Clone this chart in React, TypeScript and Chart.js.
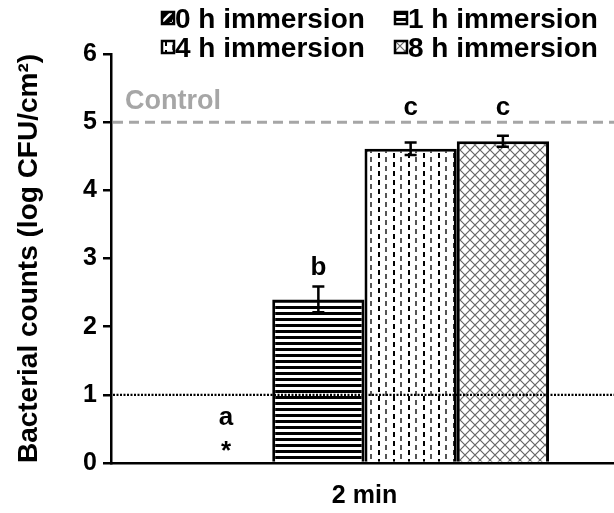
import React, { useEffect, useRef } from 'react';
import { Chart, registerables } from 'chart.js';

Chart.register(...registerables);

// ---- data ----
const categories = ['2 min'];
const seriesNames = ['0 h immersion', '1 h immersion', '4 h immersion', '8 h immersion'];
const meanCounts = [0, 2.4, 4.61, 4.72];
const sdCounts = [0, 0.19, 0.09, 0.08];
const groupLetters = ['a', 'b', 'c', 'c'];
const belowLimitMarks = ['*', '', '', ''];
const yTickValues = [0, 1, 2, 3, 4, 5, 6];
const controlLevel = 5;
const controlLabel = 'Control';
const detectionLimit = 1;
const yTitle = 'Bacterial counts (log CFU/cm\u00B2)';

const FONT = "'Liberation Sans', Arial, Helvetica, sans-serif";

function tile(w: number, h: number, draw: (c: CanvasRenderingContext2D) => void, bg = '#fff') {
  const cv = document.createElement('canvas');
  cv.width = w;
  cv.height = h;
  const c = cv.getContext('2d')!;
  c.fillStyle = bg;
  c.fillRect(0, 0, w, h);
  draw(c);
  return cv;
}

function makePatterns(ctx: CanvasRenderingContext2D): CanvasPattern[] {
  // 0 h: black with a white rising diagonal
  const t0 = tile(10, 10, (c) => {
    c.strokeStyle = '#fff';
    c.lineWidth = 2.5;
    c.beginPath();
    c.moveTo(-2, 12);
    c.lineTo(12, -2);
    c.stroke();
  }, '#000');
  // 1 h: horizontal stripes
  const t1 = tile(6, 6, (c) => {
    c.fillStyle = '#000';
    c.fillRect(0, 0, 6, 3);
  });
  // 4 h: staggered short vertical dashes
  const t2 = tile(15, 9, (c) => {
    c.fillStyle = '#000';
    c.fillRect(3, 0, 2, 5);
    c.fillStyle = '#555';
    c.fillRect(10, 4, 2, 5);
  });
  // 8 h: diagonal cross-hatch
  const t3 = tile(10, 10, (c) => {
    c.strokeStyle = '#666';
    c.lineWidth = 1.2;
    c.beginPath();
    c.moveTo(0, 0);
    c.lineTo(10, 10);
    c.moveTo(10, 0);
    c.lineTo(0, 10);
    c.stroke();
  });
  return [t0, t1, t2, t3].map((t) => ctx.createPattern(t, 'repeat')!);
}

const overlayPlugin = {
  id: 'overlay',
  afterDatasetsDraw(chart: any) {
    const { ctx, chartArea, scales } = chart;
    const y = scales.y;
    const cy = y.getPixelForValue(controlLevel);
    const dy = y.getPixelForValue(detectionLimit);
    ctx.save();

    // control reference line and label
    ctx.strokeStyle = '#a6a6a6';
    ctx.lineWidth = 3;
    ctx.setLineDash([10, 6]);
    ctx.beginPath();
    ctx.moveTo(chartArea.left + 2, cy);
    ctx.lineTo(chartArea.right, cy);
    ctx.stroke();
    ctx.setLineDash([]);
    ctx.fillStyle = '#a6a6a6';
    ctx.font = `bold 27px ${FONT}`;
    ctx.textAlign = 'left';
    ctx.textBaseline = 'alphabetic';
    ctx.fillText(controlLabel, chartArea.left + 14, cy - 13);

    // detection limit line
    ctx.strokeStyle = '#000';
    ctx.lineWidth = 2.2;
    ctx.setLineDash([2, 1.5]);
    ctx.beginPath();
    ctx.moveTo(chartArea.left + 2, dy);
    ctx.lineTo(chartArea.right, dy);
    ctx.stroke();
    ctx.setLineDash([]);

    // error bars and letters
    ctx.font = `bold 26px ${FONT}`;
    ctx.textAlign = 'center';
    chart.data.datasets.forEach((ds: any, i: number) => {
      const bar = chart.getDatasetMeta(i).data[0];
      if (!bar) return;
      const x = bar.x;
      const m = meanCounts[i];
      const sd = sdCounts[i];
      ctx.fillStyle = '#000';
      if (m > 0) {
        const top = y.getPixelForValue(m + sd);
        const bot = y.getPixelForValue(m - sd);
        ctx.strokeStyle = '#000';
        ctx.lineWidth = 2.5;
        ctx.beginPath();
        ctx.moveTo(x, top);
        ctx.lineTo(x, bot);
        ctx.moveTo(x - 6, top);
        ctx.lineTo(x + 6, top);
        ctx.moveTo(x - 6, bot);
        ctx.lineTo(x + 6, bot);
        ctx.stroke();
        let base = top - 11;
        if (base > cy - 30 && base - 20 < cy + 3) base = cy - 7;
        ctx.fillText(groupLetters[i], x, base);
      } else {
        ctx.fillText(groupLetters[i], x, dy + 30);
        if (belowLimitMarks[i]) ctx.fillText(belowLimitMarks[i], x, dy + 64);
      }
    });
    ctx.restore();
  },
  afterDraw(chart: any) {
    const { ctx } = chart;
    const cols = [162, 395];
    const baselines = [28, 57];
    ctx.save();
    ctx.font = `bold 28px ${FONT}`;
    ctx.textBaseline = 'alphabetic';
    ctx.textAlign = 'left';
    chart.data.datasets.forEach((ds: any, i: number) => {
      const bx = cols[i % 2];
      const base = baselines[Math.floor(i / 2)];
      const byTop = base - 16;
      const pat = ds.backgroundColor as CanvasPattern;
      try {
        pat.setTransform(new DOMMatrix().translate(bx, byTop));
      } catch (e) {}
      ctx.fillStyle = pat;
      ctx.fillRect(bx, byTop, 12, 12);
      try {
        pat.setTransform(new DOMMatrix());
      } catch (e) {}
      ctx.strokeStyle = '#000';
      ctx.lineWidth = 2.5;
      ctx.strokeRect(bx, byTop, 12, 12);
      ctx.fillStyle = '#000';
      ctx.fillText(seriesNames[i], bx + 13, base);
    });
    ctx.restore();
  },
};

export default function App() {
  const ref = useRef<HTMLCanvasElement>(null);

  useEffect(() => {
    const canvas = ref.current!;
    const ctx = canvas.getContext('2d')!;
    const patterns = makePatterns(ctx);
    const chart = new Chart(canvas, {
      type: 'bar',
      data: {
        labels: categories,
        datasets: seriesNames.map((name, i) => ({
          label: name,
          data: [meanCounts[i]],
          backgroundColor: patterns[i],
          borderColor: '#000',
          borderWidth: 3,
          barPercentage: 1,
          categoryPercentage: 0.728,
        })),
      },
      options: {
        animation: false,
        responsive: false,
        devicePixelRatio: 1,
        layout: { padding: { top: 54, right: 0, bottom: 2, left: 0 } },
        plugins: {
          legend: { display: false },
          tooltip: { enabled: false },
        },
        scales: {
          x: {
            grid: { display: false, drawTicks: false },
            border: { color: '#000', width: 2.5 },
            ticks: { color: '#000', font: { family: FONT, size: 25, weight: 'bold' }, padding: 18 },
            afterFit: (s: any) => {
              s.height = 48;
            },
          },
          y: {
            min: 0,
            max: 6,
            afterBuildTicks: (s: any) => {
              s.ticks = yTickValues.map((v) => ({ value: v }));
            },
            afterFit: (s: any) => {
              s.width = 111;
            },
            ticks: { color: '#000', font: { family: FONT, size: 25, weight: 'bold' }, padding: 6 },
            grid: { drawOnChartArea: false, tickLength: 8, color: '#000', lineWidth: 2.5 },
            border: { color: '#000', width: 2.5 },
            title: {
              display: true,
              text: yTitle,
              color: '#000',
              font: { family: FONT, size: 28, weight: 'bold' },
              padding: { top: 12, bottom: 0 },
            },
          },
        },
      },
      plugins: [overlayPlugin],
    });
    return () => chart.destroy();
  }, []);

  return (
    <div style={{ position: 'fixed', left: 0, top: 0, width: 614, height: 513, overflow: 'hidden', background: '#fff' }}>
      <canvas ref={ref} width={618} height={513} style={{ display: 'block', width: 618, height: 513 }} />
    </div>
  );
}
